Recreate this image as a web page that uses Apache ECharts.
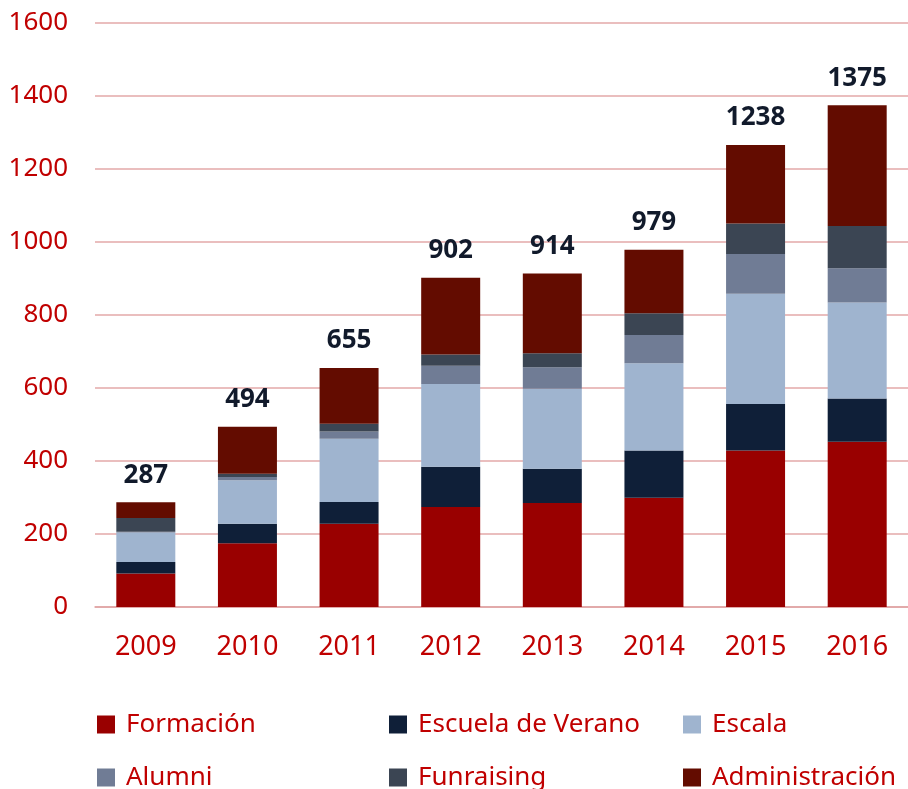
<!DOCTYPE html>
<html>
<head>
<meta charset="utf-8">
<script src="https://cdn.jsdelivr.net/npm/echarts@6/dist/echarts.min.js"></script>
<style>
  html, body { margin: 0; padding: 0; background: #fff; }
  #chart { width: 908px; height: 789px; }
</style>
</head>
<body>
<div id="chart"></div>
<script>
// datos del gráfico
var years = ['2009', '2010', '2011', '2012', '2013', '2014', '2015', '2016'];
var formacion = [92, 175, 228, 274, 285, 299, 429, 453];
var escuelaVerano = [31, 53, 60, 110, 94, 130, 127, 118];
var escala = [81, 119, 173, 227, 219, 239, 302, 263];
var alumni = [2, 9, 20, 50, 59, 77, 109, 94];
var funraising = [38, 9, 21, 31, 38, 60, 84, 116];
var administracion = [43, 129, 153, 210, 219, 174, 215, 331];
var totales = [287, 494, 655, 902, 914, 979, 1238, 1375];
var yTicks = [0, 200, 400, 600, 800, 1000, 1200, 1400, 1600];

var rojo = '#c00000';
var fuente = '"Noto Sans", "Open Sans", sans-serif';

function serie(nombre, datos, color) {
    return {
        name: nombre,
        type: 'bar',
        stack: 'total',
        barWidth: 59,
        data: datos,
        itemStyle: { color: color },
        emphasis: { disabled: true }
    };
}

var series = [
    serie('Formación', formacion, '#990000'),
    serie('Escuela de Verano', escuelaVerano, '#0f1f38'),
    serie('Escala', escala, '#9fb4cf'),
    serie('Alumni', alumni, '#707c95'),
    serie('Funraising', funraising, '#3b4553'),
    serie('Administración', administracion, '#630c00')
];
// etiqueta con el total encima de cada barra
series[5].label = {
    show: true,
    position: 'top',
    distance: 14,
    color: '#111a2b',
    fontFamily: fuente,
    fontWeight: 'bold',
    fontSize: 26,
    formatter: function (p) { return totales[p.dataIndex]; }
};

var legendItem = function (n, w) {
    return { name: n, textStyle: { width: w } };
};

var chart = echarts.init(document.getElementById('chart'));
chart.setOption({
    animation: false,
    grid: { left: 95, right: 0, top: 23, bottom: 182 },
    legend: {
        left: 97,
        top: 705,
        width: 860,
        padding: 0,
        itemWidth: 18,
        itemHeight: 18,
        itemGap: 14,
        icon: 'rect',
        selectedMode: false,
        textStyle: {
            color: rojo, fontFamily: fuente, fontSize: 26, lineHeight: 39,
            padding: [0, 0, 0, 6]
        },
        data: [
            legendItem('Formación', 249),
            legendItem('Escuela de Verano', 251),
            legendItem('Escala', 200),
            '',
            legendItem('Alumni', 249),
            legendItem('Funraising', 251),
            legendItem('Administración', 200)
        ]
    },
    xAxis: {
        type: 'category',
        data: years,
        axisTick: { show: false },
        axisLine: { lineStyle: { color: '#e0a4a4', width: 1.5 } },
        axisLabel: { color: rojo, fontFamily: fuente, fontSize: 27, margin: 27 }
    },
    yAxis: {
        type: 'value',
        min: yTicks[0],
        max: yTicks[yTicks.length - 1],
        interval: 200,
        axisLine: { show: false },
        axisTick: { show: false },
        splitLine: { lineStyle: { color: '#e3a9a9', width: 1.5 } },
        axisLabel: {
            color: rojo, fontFamily: fuente, fontSize: 26, margin: 27,
            formatter: function (v) { return String(v); }
        }
    },
    series: series
});
</script>
</body>
</html>
